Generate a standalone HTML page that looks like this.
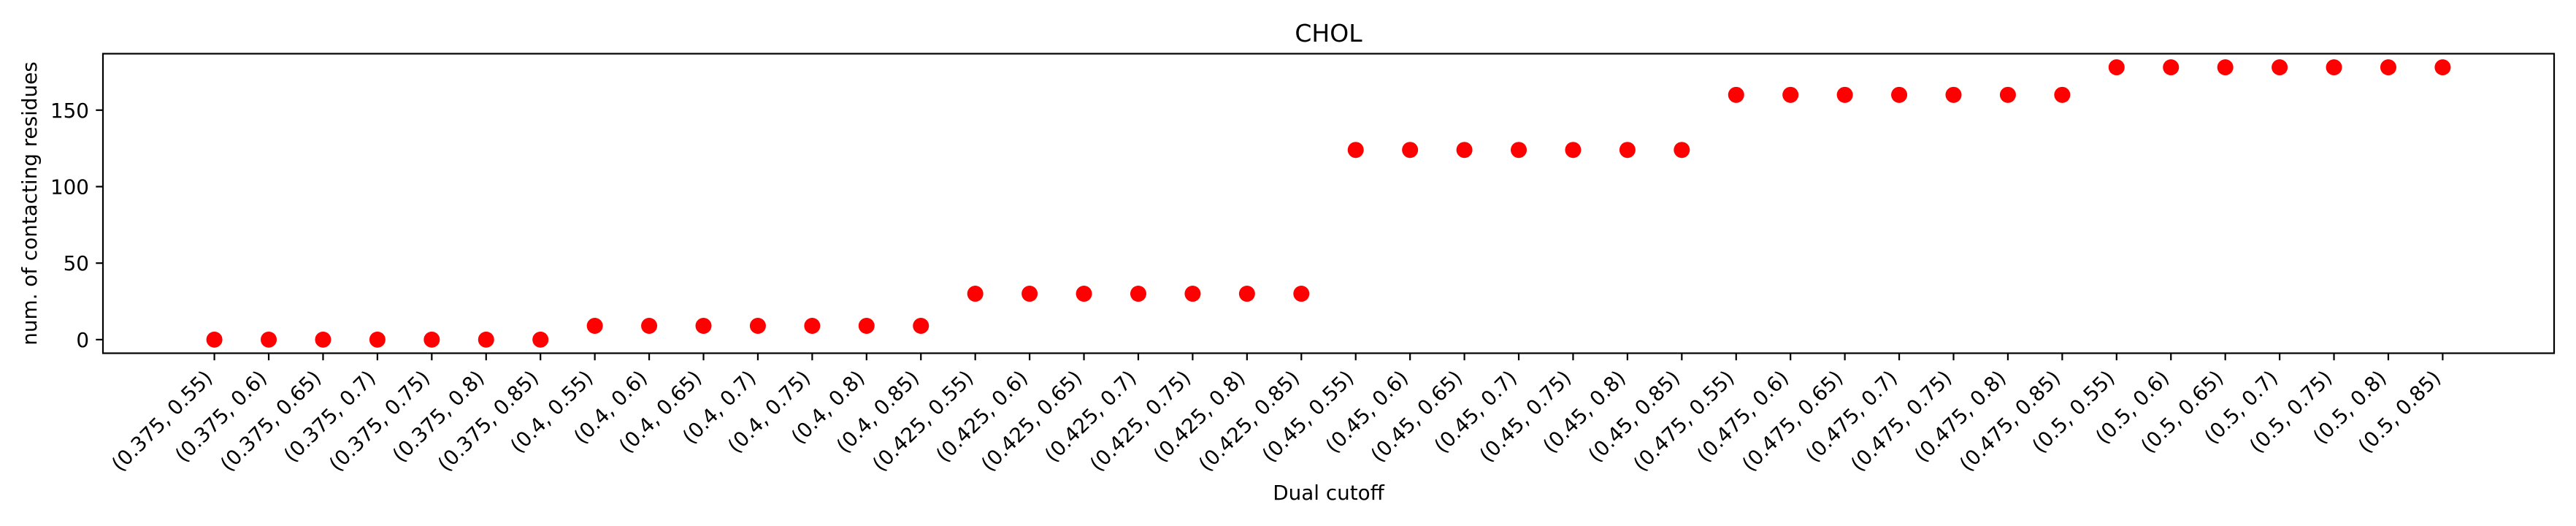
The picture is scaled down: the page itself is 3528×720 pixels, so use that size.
<!DOCTYPE html>
<html><head><meta charset="utf-8"><style>
html,body{margin:0;padding:0;background:#fff;}
svg{display:block;font-family:"DejaVu Sans","Liberation Sans",sans-serif;}
</style></head><body>
<svg id="chart" width="3528" height="720" viewBox="0 0 3528 720" xmlns="http://www.w3.org/2000/svg">
<rect width="3528" height="720" fill="#fff"/>
<text x="1819.5" y="57" font-size="33" text-anchor="middle">CHOL</text>
<g id="plot"></g>
<text x="1819.5" y="684" font-size="27.8" text-anchor="middle">Dual cutoff</text>
<text transform="translate(50,278.5) rotate(-90)" font-size="27.8" text-anchor="middle">num. of contacting residues</text>
</svg>
<script>
const firstCut = ["0.375","0.4","0.425","0.45","0.475","0.5"];
const secondCut = ["0.55","0.6","0.65","0.7","0.75","0.8","0.85"];
const groupValues = [0, 9, 30, 124, 160, 178];
const yTicks = [0, 50, 100, 150];

const categories = [];
const values = [];
firstCut.forEach((a, gi) => secondCut.forEach(b => { categories.push("(" + a + ", " + b + ")"); values.push(groupValues[gi]); }));

const L = 141, R = 3498, T = 73.5, B = 483.5;
const n = categories.length;
const xmin = -0.05 * (n - 1), xmax = (n - 1) * 1.05;
const vmax = Math.max(...values), vmin = Math.min(...values);
const ymin = vmin - 0.05 * (vmax - vmin), ymax = vmax + 0.05 * (vmax - vmin);
const xs = i => L + (i - xmin) / (xmax - xmin) * (R - L);
const ys = v => B - (v - ymin) / (ymax - ymin) * (B - T);
const NS = "http://www.w3.org/2000/svg";
const g = document.getElementById("plot");
function mk(tag, attrs) { const e = document.createElementNS(NS, tag); for (const k in attrs) e.setAttribute(k, attrs[k]); g.appendChild(e); return e; }

yTicks.forEach(t => {
  const y = ys(t);
  const tk = mk("line", {x1: L - 9.7, x2: L, y1: y, y2: y, stroke: "#000", "stroke-width": 2.2});
  
  
  const lb = mk("text", {x: L - 19, y: y + 10, "font-size": 27.8, "text-anchor": "end"});
  lb.textContent = t;
  
  
});
categories.forEach((c, i) => {
  const x = xs(i);
  const tk = mk("line", {x1: x, x2: x, y1: B, y2: B + 9.7, stroke: "#000", "stroke-width": 2.2});
  
  
  const lb = mk("text", {transform: "translate(" + (x - 8) + "," + 512 + ") rotate(-45)", "font-size": 27.8, "text-anchor": "end", dy: "0.35em"});
  lb.textContent = c;
  
  
});
values.forEach((v, i) => {
  const p = mk("circle", {cx: xs(i), cy: ys(v), r: 11, fill: "#ff0000"});
  
  
});
const frame = mk("rect", {x: L, y: T, width: R - L, height: B - T, fill: "none", stroke: "#000", "stroke-width": 2.2});


</script>
</body></html>
